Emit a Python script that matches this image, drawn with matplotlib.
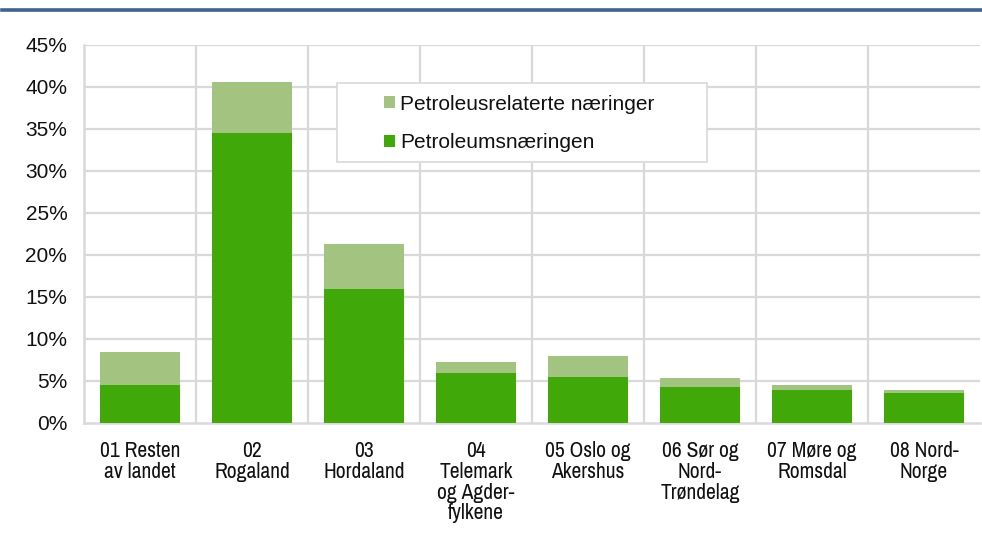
import matplotlib
matplotlib.use("Agg")
import matplotlib.pyplot as plt
from matplotlib.patches import Patch, Rectangle
from matplotlib.lines import Line2D

plt.rcParams['font.family'] = ['Liberation Sans', 'DejaVu Sans']
narrow = ['Archivo Narrow', 'Liberation Sans', 'DejaVu Sans']

categories = ["01 Resten\nav landet", "02\nRogaland", "03\nHordaland",
              "04\nTelemark\nog Agder-\nfylkene", "05 Oslo og\nAkershus",
              "06 Sør og\nNord-\nTrøndelag", "07 Møre og\nRomsdal", "08 Nord-\nNorge"]
petroleum = [4.55, 34.5, 16.0, 5.95, 5.5, 4.25, 3.95, 3.6]
related = [3.9, 6.05, 5.3, 1.3, 2.5, 1.15, 0.62, 0.28]
yticks = [0, 5, 10, 15, 20, 25, 30, 35, 40, 45]
legend_labels = ["Petroleusrelaterte næringer", "Petroleumsnæringen"]

dark = "#41a80a"
light = "#a2c480"
grid = "#d9d9d9"
W, H = 982, 543

fig = plt.figure(figsize=(W/100, H/100), dpi=100)
ax = fig.add_axes([84/W, 1 - 423/H, 896/W, 378/H])

x = list(range(len(categories)))
ax.bar(x, petroleum, width=0.71, color=dark, zorder=3)
ax.bar(x, related, bottom=petroleum, width=0.71, color=light, zorder=3)

ax.set_xlim(-0.5, len(categories) - 0.5)
ax.set_ylim(0, 45)
ax.set_yticks(yticks)
ax.set_yticklabels([f"{v}%" for v in yticks], fontsize=15, color="#111111")
ax.set_xticks(x)
ax.set_xticklabels(categories, fontsize=15.5, linespacing=1.05, va='top',
                   family=narrow, color="#111111")
ax.tick_params(axis='x', length=0, pad=13)
ax.tick_params(axis='y', length=0, pad=12)

for v in yticks[1:]:
    ax.axhline(v, color=grid, lw=1.6, zorder=1)
for b in range(1, len(categories)):
    ax.axvline(b - 0.5, color=grid, lw=1.6, zorder=1)

for s in ['top', 'right']:
    ax.spines[s].set_visible(False)
for s in ['left', 'bottom']:
    ax.spines[s].set_color(grid)
    ax.spines[s].set_linewidth(1.8)

# legend box
fig.add_artist(Rectangle((337/W, 1 - 162/H), 370/W, 79/H, transform=fig.transFigure,
                         facecolor='white', edgecolor=grid, lw=1.2, zorder=4))
handles = [Patch(facecolor=light, edgecolor='none'), Patch(facecolor=dark, edgecolor='none')]
leg = fig.legend(handles, legend_labels,
                 loc='center left', bbox_to_anchor=(384/W, 1 - 123.5/H),
                 fontsize=15, frameon=False, handlelength=0.53,
                 handleheight=0.53, handletextpad=0.25, labelspacing=0.95,
                 borderpad=0, borderaxespad=0)
leg.set_zorder(5)
for t in leg.get_texts():
    t.set_color("#111111")

fig.add_artist(Line2D([2/W, 1], [1 - 9.5/H, 1 - 9.5/H], color="#44608f", lw=2.6,
                      transform=fig.transFigure))

fig.savefig("out.png", dpi=100)
